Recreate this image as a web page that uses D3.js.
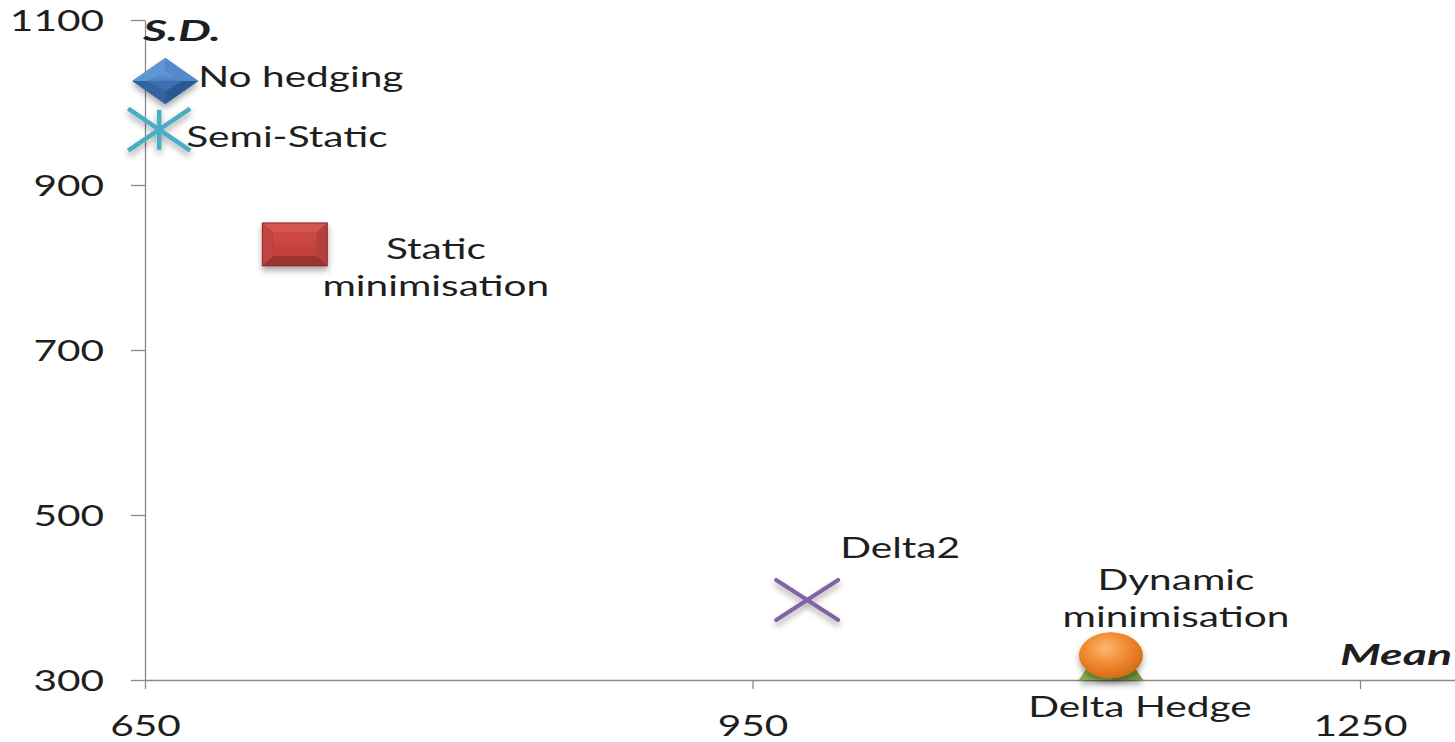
<!DOCTYPE html>
<html>
<head>
<meta charset="utf-8">
<script src="https://cdn.jsdelivr.net/npm/d3@7"></script>
<style>
  html, body { margin: 0; padding: 0; background: #fff; overflow: hidden; }
  svg { display: block; }
</style>
</head>
<body>
<svg id="chart" width="1455" height="742"></svg>
<script>
// Hedging strategies: mean vs. standard deviation of the hedged position
const strategies = ["No hedging", "Semi-Static", "Static minimisation", "Delta2", "Delta Hedge", "Dynamic minimisation"];
const meanValues = [660, 657, 724, 977, 1127, 1127];
const sdValues   = [1026, 967, 828, 397, 329, 330];
const xTickValues = [650, 950, 1250];
const yTickValues = [300, 500, 700, 900, 1100];

const W = 1455, H = 742;
const FONT = "Lato, 'Open Sans', 'Liberation Sans', sans-serif";
const SX = 1.45;          // horizontal stretch of the chart's lettering
const SX_TITLE = 1.6;     // stretch of the bold italic axis titles
const TEXT = "#1e1e1e";

const svg = d3.select("#chart");

const x = d3.scaleLinear().domain([650, 1250]).range([145, 1360]);
x.domain([650, x.invert(W)]).range([145, W]);
const y = d3.scaleLinear().domain([300, 1100]).range([680, 20]);

// ---------- defs: shadow + gradients ----------
const defs = svg.append("defs");
const shadow = defs.append("filter").attr("id", "shadow")
  .attr("x", "-40%").attr("y", "-40%").attr("width", "180%").attr("height", "200%");
shadow.append("feDropShadow").attr("dx", 0).attr("dy", 4).attr("stdDeviation", 3)
  .attr("flood-color", "#000").attr("flood-opacity", 0.35);

const orange = defs.append("radialGradient").attr("id", "orangeBall")
  .attr("cx", "42%").attr("cy", "35%").attr("r", "65%");
orange.append("stop").attr("offset", "0%").attr("stop-color", "#fcb873");
orange.append("stop").attr("offset", "55%").attr("stop-color", "#f2882e");
orange.append("stop").attr("offset", "100%").attr("stop-color", "#d46c17");

const blueTop = defs.append("linearGradient").attr("id", "blueTop")
  .attr("x1", 0).attr("y1", 0).attr("x2", 0).attr("y2", 1);
blueTop.append("stop").attr("offset", "0%").attr("stop-color", "#6b9fdc");
blueTop.append("stop").attr("offset", "100%").attr("stop-color", "#4a7fc2");

const redCore = defs.append("linearGradient").attr("id", "redCore")
  .attr("x1", 0).attr("y1", 0).attr("x2", 0).attr("y2", 1);
redCore.append("stop").attr("offset", "0%").attr("stop-color", "#d04a45");
redCore.append("stop").attr("offset", "100%").attr("stop-color", "#bf3e3a");

// ---------- axes ----------
const axisColor = "#8a8a8a";

const yAxis = svg.append("g").attr("transform", `translate(${x(650)},0)`)
  .call(d3.axisLeft(y).tickValues(yTickValues).tickSize(14).tickSizeOuter(0).tickFormat(d3.format("d")));
const xAxis = svg.append("g").attr("transform", `translate(0,${y(300)})`)
  .call(d3.axisBottom(x).tickValues(xTickValues).tickSize(9).tickSizeOuter(0).tickFormat(d3.format("d")));

[yAxis, xAxis].forEach(g => {
  g.select(".domain").attr("stroke", axisColor).attr("stroke-width", 1.3);
  g.selectAll(".tick line").attr("stroke", axisColor).attr("stroke-width", 1.3);
  g.selectAll(".tick text")
    .attr("fill", TEXT).attr("font-family", FONT).attr("font-size", 28)
    .attr("x", 0).attr("y", 0);
});
yAxis.selectAll(".tick text").attr("text-anchor", "end").attr("dy", "0.36em")
  .attr("transform", `translate(-41,0) scale(${SX},1)`);
xAxis.selectAll(".tick text").attr("text-anchor", "middle").attr("dy", 0)
  .attr("transform", `translate(0,56) scale(${SX},1)`);

// axis titles
function stretchedText(g, tx, ty, str, opts = {}) {
  return g.append("text")
    .attr("transform", `translate(${tx},${ty}) scale(${opts.sx || SX},1)`)
    .attr("text-anchor", opts.anchor || "start")
    .attr("font-family", FONT)
    .attr("font-size", opts.size || 28)
    .attr("font-weight", opts.weight || "normal")
    .attr("font-style", opts.style || "normal")
    .attr("fill", TEXT)
    .text(str);
}
stretchedText(svg, x(650) - 2, 41, "S.D.", { weight: "bold", style: "italic", size: 29, sx: SX_TITLE });
stretchedText(svg, 1340, 665, "Mean", { weight: "bold", style: "italic", size: 29, sx: SX_TITLE });

// ---------- markers ----------
const markerGroup = svg.append("g");

function diamond(g) {
  const w = 33, h = 23, iw = 17, ih = 10;
  g.append("path").attr("d", `M${-w},0L0,${-h}L${w},0L0,${h}Z`).attr("fill", "#3d6fae");
  g.append("path").attr("d", `M${-w},0L0,${-h}L0,${-ih}L${-iw},0Z`).attr("fill", "#6195d6");
  g.append("path").attr("d", `M0,${-h}L${w},0L${iw},0L0,${-ih}Z`).attr("fill", "#5589cc");
  g.append("path").attr("d", `M${w},0L0,${h}L0,${ih}L${iw},0Z`).attr("fill", "#2a5893");
  g.append("path").attr("d", `M0,${h}L${-w},0L${-iw},0L0,${ih}Z`).attr("fill", "#33639f");
  g.append("path").attr("d", `M${-iw},0L0,${-ih}L${iw},0Z`).attr("fill", "url(#blueTop)");
  g.append("path").attr("d", `M${-iw},0L${iw},0L0,${ih}Z`).attr("fill", "#3c70b3");
}
function asterisk(g) {
  const w = 31, h = 21;
  const s = g.append("g").attr("stroke", "#4bacc6").attr("stroke-width", 4.5).attr("stroke-linecap", "butt");
  s.append("line").attr("x1", -w).attr("y1", -h).attr("x2", w).attr("y2", h);
  s.append("line").attr("x1", -w).attr("y1", h).attr("x2", w).attr("y2", -h);
  s.append("line").attr("x1", 0).attr("y1", -h + 1).attr("x2", 0).attr("y2", h - 1);
}
function bevelSquare(g) {
  const w = 33, h = 22, iw = 22, ih = 12;
  g.append("rect").attr("x", -w).attr("y", -h).attr("width", 2 * w).attr("height", 2 * h).attr("fill", "#8f2b28");
  const o = 1;
  g.append("path").attr("d", `M${-w + o},${-h + o}L${w - o},${-h + o}L${iw},${-ih}L${-iw},${-ih}Z`).attr("fill", "#d35550");
  g.append("path").attr("d", `M${w - o},${-h + o}L${w - o},${h - o}L${iw},${ih}L${iw},${-ih}Z`).attr("fill", "#b33f3b");
  g.append("path").attr("d", `M${w - o},${h - o}L${-w + o},${h - o}L${-iw},${ih}L${iw},${ih}Z`).attr("fill", "#9c3330");
  g.append("path").attr("d", `M${-w + o},${h - o}L${-w + o},${-h + o}L${-iw},${-ih}L${-iw},${ih}Z`).attr("fill", "#c0453f");
  g.append("rect").attr("x", -iw).attr("y", -ih).attr("width", 2 * iw).attr("height", 2 * ih).attr("fill", "url(#redCore)");
}
function cross(g) {
  const w = 31, h = 20;
  const s = g.append("g").attr("stroke", "#8064a2").attr("stroke-width", 4).attr("stroke-linecap", "round");
  s.append("line").attr("x1", -w).attr("y1", -h).attr("x2", w).attr("y2", h);
  s.append("line").attr("x1", -w).attr("y1", h).attr("x2", w).attr("y2", -h);
}
function triangle(g) {
  const w = 32, h = 24;
  g.append("path").attr("d", `M0,${-h}L${w},${h}L${-w},${h}Z`).attr("fill", "#8aad4c");
  g.append("path").attr("d", `M0,${-h}L${w},${h}L0,${h}Z`).attr("fill", "#739538");
}
function ball(g) {
  g.append("ellipse").attr("rx", 32).attr("ry", 23).attr("fill", "url(#orangeBall)");
}

const markerOf = {
  "No hedging": diamond,
  "Semi-Static": asterisk,
  "Static minimisation": bevelSquare,
  "Delta2": cross,
  "Delta Hedge": triangle,
  "Dynamic minimisation": ball
};

// label placement relative to each marker: offset, anchor and line breaks
const labelLayout = {
  "No hedging":           { dx: 33, dy: 6,   anchor: "start",  lines: ["No hedging"] },
  "Semi-Static":          { dx: 27, dy: 17,  anchor: "start",  lines: ["Semi-Static"] },
  "Static minimisation":  { dx: 141, dy: 15, anchor: "middle", lines: ["Static", "minimisation"] },
  "Delta2":               { dx: 33, dy: -42, anchor: "start",  lines: ["Delta2"] },
  "Delta Hedge":          { dx: 29, dy: 61,  anchor: "middle", lines: ["Delta Hedge"] },
  "Dynamic minimisation": { dx: 65, dy: -65, anchor: "middle", lines: ["Dynamic", "minimisation"] }
};
const LINE_H = 37;

strategies.forEach((name, i) => {
  const px = x(meanValues[i]), py = y(sdValues[i]);
  const g = markerGroup.append("g").attr("transform", `translate(${px},${py})`).attr("filter", "url(#shadow)");
  markerOf[name](g);
});

const labelGroup = svg.append("g");
strategies.forEach((name, i) => {
  const px = x(meanValues[i]), py = y(sdValues[i]);
  const L = labelLayout[name];
  L.lines.forEach((line, k) => {
    stretchedText(labelGroup, px + L.dx, py + L.dy + k * LINE_H, line, { anchor: L.anchor });
  });
});
</script>
</body>
</html>
